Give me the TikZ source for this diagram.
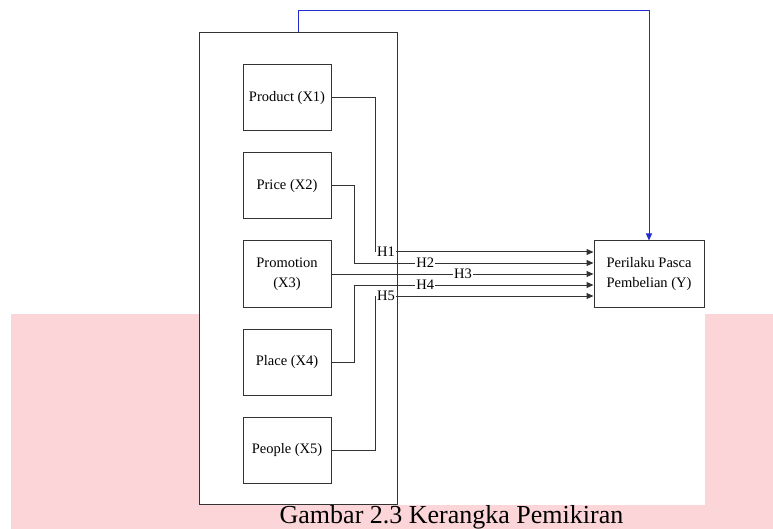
\documentclass[tikz,border=0pt]{standalone}
\usepackage{fontspec}
\setmainfont{Liberation Serif}
\usepackage{tikz}
\usetikzlibrary{arrows.meta, calc, positioning}
\usepackage{xcolor}
\definecolor{wmpink}{RGB}{252,213,217}
\definecolor{linkblue}{RGB}{35,45,205}

\begin{document}
\begin{tikzpicture}[x=1pt, y=-1pt, line width=1pt,
    var/.style={draw=black!80, fill=white, minimum width=88pt, minimum height=66pt,
                align=center, inner sep=2pt, font=\fontsize{14.5}{20}\selectfont},
    hyp/.style={fill=white, inner sep=1pt, font=\fontsize{14.5}{17}\selectfont},
    link/.style={draw=black!80, -{Triangle[length=7pt,width=6pt]}}]
    \useasboundingbox (0,0) rectangle (773,529);
    \fill[wmpink] (11,314) rectangle (773,529);
    \fill[white] (199,0) rectangle (705,505);
    \node[draw=black!80, minimum width=198pt, minimum height=471pt, inner sep=0pt] (frame) at (298,268.5) {};
    \node[var] (x1) at (287,98) {Product (X1)};
    \node[var] (x2) at (287,186) {Price (X2)};
    \node[var] (x3) at (287,274) {Promotion\\(X3)};
    \node[var] (x4) at (287,362) {Place (X4)};
    \node[var] (x5) at (287,450) {People (X5)};
    \node[var, minimum width=110pt] (yb) at (649,274) {Perilaku Pasca\\Pembelian (Y)};
    \coordinate (in1) at ($(yb.west)+(0,-22)$);
    \coordinate (in2) at ($(yb.west)+(0,-11)$);
    \coordinate (in3) at (yb.west);
    \coordinate (in4) at ($(yb.west)+(0,11)$);
    \coordinate (in5) at ($(yb.west)+(0,22)$);
    \draw[link] (x1.east) -- ++(44,0) |- node[hyp, pos=0.524] (h1) {H1} (in1);
    \draw[link] (x2.east) -- ++(23,0) |- node[hyp, pos=0.648] (h2) {H2} (in2);
    \draw[link] (x3.east) -- node[hyp, pos=0.502] (h3) {H3} (in3);
    \draw[link] (x4.east) -- ++(23,0) |- node[hyp, pos=0.648] (h4) {H4} (in4);
    \draw[link] (x5.east) -- ++(44,0) |- node[hyp, pos=0.524] (h5) {H5} (in5);
    \draw[linkblue, -{Triangle[length=7pt,width=6pt]}] (frame.north) -- ++(0,-22) -| (yb.north);
    \node[anchor=base, font=\fontsize{26}{30}\selectfont] (cap) at (451.5,523) {Gambar 2.3 Kerangka Pemikiran};
\end{tikzpicture}
\end{document}
